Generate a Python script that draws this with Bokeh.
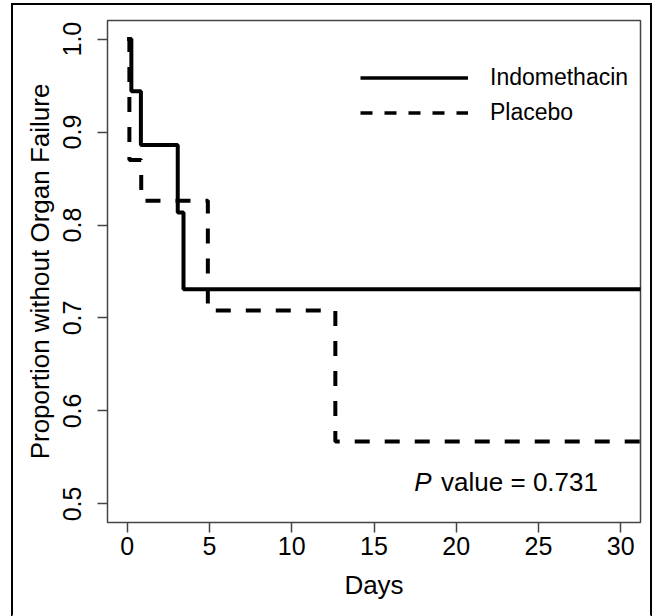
from bokeh.plotting import figure
from bokeh.models import FixedTicker, Legend, LegendItem, Label, Range1d
from bokeh.embed import file_html
from bokeh.resources import INLINE

# ---- data ----
indo_days = [0.0, 0.25, 0.83, 3.07, 3.42, 31.5]
indo_surv = [1.0, 0.944, 0.886, 0.8135, 0.731, 0.731]

placebo_days = [0.0, 0.13, 0.85, 4.9, 12.65, 31.5]
placebo_surv = [1.0, 0.870, 0.826, 0.708, 0.567, 0.567]

x_ticks = [0, 5, 10, 15, 20, 25, 30]
x_tick_labels = ["0", "5", "10", "15", "20", "25", "30"]
y_ticks = [0.5, 0.6, 0.7, 0.8, 0.9, 1.0]
y_tick_labels = ["0.5", "0.6", "0.7", "0.8", "0.9", "1.0"]

series_names = ["Indomethacin", "Placebo"]
p_value_text = "value = 0.731"

FONT = "Liberation Sans"

p = figure(width=641, height=614,
           x_range=Range1d(-1.2, 31.2), y_range=Range1d(0.48, 1.02),
           output_backend="svg", toolbar_location=None,
           min_border_left=94, min_border_top=15,
           min_border_right=14, min_border_bottom=97)
p.styles = {"border-top": "2px solid black", "border-left": "2px solid black",
            "border-right": "2px solid black", "border-bottom": "2px solid white",
            "margin-left": "11px", "margin-top": "3px"}

p.grid.visible = False
p.outline_line_color = "#444444"
p.outline_line_width = 1.5
p.background_fill_color = "white"
p.border_fill_color = "white"

for ax in (p.xaxis, p.yaxis):
    ax.axis_line_color = None
    ax.major_tick_line_color = "#444444"
    ax.major_tick_line_width = 1.5
    ax.major_tick_in = 0
    ax.major_tick_out = 10
    ax.minor_tick_line_color = None
    ax.major_label_text_font = FONT
    ax.major_label_text_font_size = "25px"
    ax.major_label_text_color = "black"
    ax.axis_label_text_font = FONT
    ax.axis_label_text_font_size = "26px"
    ax.axis_label_text_font_style = "normal"
    ax.axis_label_text_color = "black"

p.xaxis.ticker = FixedTicker(ticks=x_ticks)
p.xaxis.major_label_overrides = dict(zip(x_ticks, x_tick_labels))
p.yaxis.ticker = FixedTicker(ticks=y_ticks)
p.yaxis.major_label_overrides = dict(zip(y_ticks, y_tick_labels))
p.yaxis.major_label_orientation = "vertical"
p.xaxis.axis_label = "Days"
p.yaxis.axis_label = "Proportion without Organ Failure"
p.xaxis.major_label_standoff = 4
p.yaxis.major_label_standoff = 16
p.xaxis.axis_label_standoff = 12
p.yaxis.axis_label_standoff = 6

p.step(placebo_days, placebo_surv, mode="after", line_color="black",
       line_width=4, line_dash="15 15")
p.step(indo_days, indo_surv, mode="after", line_color="black", line_width=4)

# legend-only renderers (no visible data)
nan = float("nan")
leg_solid = p.line(x=[nan], y=[nan], line_color="black", line_width=3.5)
leg_dash = p.line(x=[nan], y=[nan], line_color="black", line_width=3.5, line_dash="12 12")

legend = Legend(items=[LegendItem(label=series_names[0], renderers=[leg_solid]),
                       LegendItem(label=series_names[1], renderers=[leg_dash])],
                location=(253, 392), glyph_width=108, glyph_height=35,
                label_height=35, spacing=0, padding=0, margin=0,
                label_standoff=22, label_text_font=FONT,
                label_text_font_size="23px", label_text_color="black",
                border_line_color=None, background_fill_alpha=0)
p.add_layout(legend, "center")

p.add_layout(Label(x=17.45, y=0.5241, text="P", text_font=FONT,
                   text_font_size="26px", text_font_style="italic",
                   text_color="black",
                   text_baseline="alphabetic", text_align="left"))
p.add_layout(Label(x=19.08, y=0.5241, text=p_value_text, text_font=FONT,
                   text_font_size="26px", text_baseline="alphabetic",
                   text_color="black", text_align="left"))

open("out.html", "w").write(file_html(p, INLINE))
